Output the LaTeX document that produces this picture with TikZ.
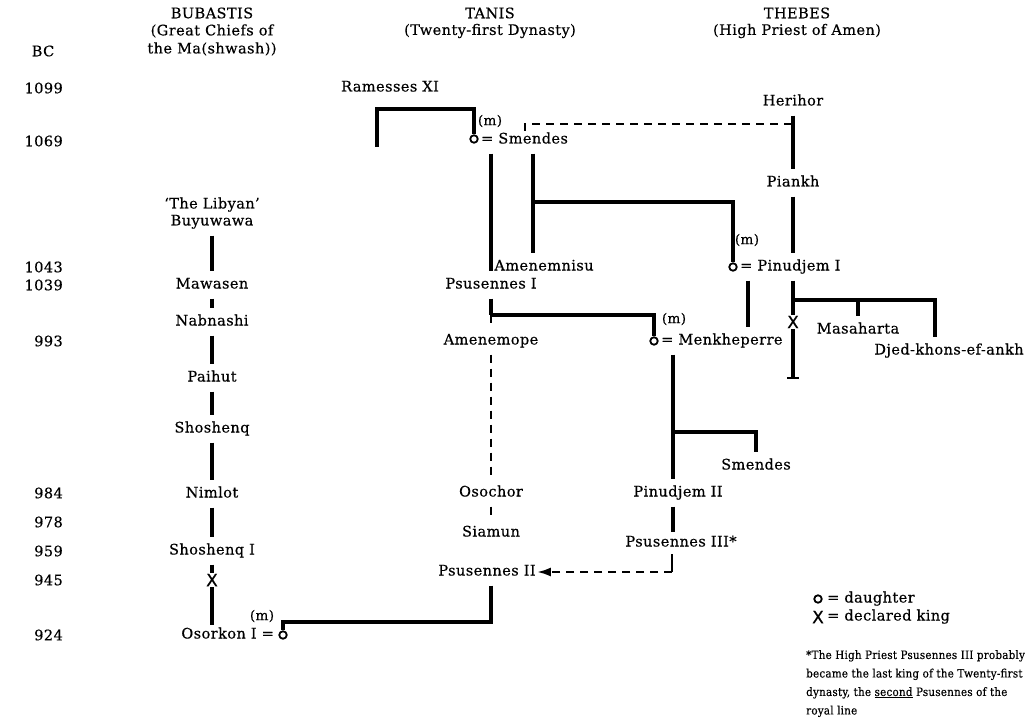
\documentclass[tikz,border=0pt]{standalone}
\usepackage{fontspec}
\usetikzlibrary{arrows.meta}
\setmainfont{DejaVu Serif}[LetterSpace=3,FakeBold=0.4]
\newfontfamily\xfont{DejaVu Sans}[FakeBold=0.6]
\newfontfamily\footfont{DejaVu Serif Condensed}[LetterSpace=2,FakeBold=0.3]
\begin{document}
\begin{tikzpicture}[x=1pt,y=-1pt,
  lbl/.style={font=\fontsize{14.5}{16}\selectfont, inner xsep=1pt, inner ysep=0pt, text height=10pt, text depth=3pt, minimum height=27pt},
  hdr/.style={font=\fontsize{14.5}{16}\selectfont, inner sep=0pt},
  yr/.style={anchor=east, font=\fontsize{14.5}{16}\selectfont, inner sep=0pt},
  mm/.style={font=\fontsize{13.5}{15}\selectfont, inner sep=0pt},
  xmark/.style={font=\xfont\fontsize{17}{19}\selectfont, inner xsep=0pt, inner ysep=1pt},
  kin/.style={line width=3.2pt},
  dsh/.style={line width=2.5pt, dash pattern=on 8pt off 6pt},
  dau/.style={circle, draw, line width=1.8pt, minimum size=7.5pt, inner sep=0pt},
  foot/.style={font=\footfont\fontsize{11.5}{18.5}\selectfont, inner sep=0pt, align=left}
]
\useasboundingbox (0,0) rectangle (1032,727);
% headers
\node[hdr] (hbub) at (212,13) {BUBASTIS};
\node[hdr] (hbub2) at (212,31) {(Great Chiefs of};
\node[hdr] (hbub3) at (212,49) {the Ma(shwash))};
\node[hdr] (htan) at (490,13) {TANIS};
\node[hdr] (htan2) at (490,31) {(Twenty-first Dynasty)};
\node[hdr] (hthe) at (797,13) {THEBES};
\node[hdr] (hthe2) at (797,31) {(High Priest of Amen)};
\node[hdr] (bc) at (43,51) {BC};
% years
\node[yr] (y1099) at (63,88) {1099};
\node[yr] (y1069) at (63,141) {1069};
\node[yr] (y1043) at (63,267) {1043};
\node[yr] (y1039) at (63,285) {1039};
\node[yr] (y993) at (63,341) {993};
\node[yr] (y984) at (63,493) {984};
\node[yr] (y978) at (63,522) {978};
\node[yr] (y959) at (63,551) {959};
\node[yr] (y945) at (63,580) {945};
\node[yr] (y924) at (63,635) {924};
% column coordinates
\coordinate (bx) at (212,0);
\coordinate (tx) at (491,0);
\coordinate (hx) at (793,0);
% Bubastis
\node[lbl] (libyan) at (212,205) {‘The Libyan’};
\node[lbl] (buyu) at (212,222) {Buyuwawa};
\node[lbl] (mawa) at (212,285) {Mawasen};
\node[lbl] (nabn) at (212,322) {Nabnashi};
\node[lbl] (paih) at (212,378) {Paihut};
\node[lbl] (shos) at (212,429) {Shoshenq};
\node[lbl] (niml) at (212,494) {Nimlot};
\node[lbl] (shos1) at (212,551) {Shoshenq I};
\node[xmark] (xb) at (212,580) {X};
\node[lbl,anchor=east,minimum height=20pt] (osor) at (275,635) {Osorkon I =};
\node[dau] (dosor) at (283,635) {};
\node[mm] (m4) at (262,616) {(m)};
\draw[kin] (buyu) -- (mawa);
\draw[kin] (mawa) -- (nabn);
\draw[kin] (nabn) -- (paih);
\draw[kin] (paih) -- (shos);
\draw[kin] (shos) -- (niml);
\draw[kin] (niml) -- (shos1);
\draw[kin] (shos1) -- (xb);
\draw[kin] (xb) -- (xb |- osor.north);
% Tanis
\node[lbl] (ram) at (390,88) {Ramesses XI};
\node[dau] (dsm) at (474,139) {};
\node[lbl,anchor=west] (smen) at (480,140) {= Smendes};
\node[mm] (m1) at (490,121) {(m)};
\node[lbl] (amnm) at (544,267) {Amenemnisu};
\node[lbl] (psus1) at (491,285) {Psusennes I};
\node[lbl] (amop) at (491,341) {Amenemope};
\node[lbl] (osoc) at (491,493) {Osochor};
\node[lbl] (siam) at (491,533) {Siamun};
\node[lbl] (psus2) at (487,572) {Psusennes II};
\coordinate (r1) at (377,147);
\coordinate (rtop) at (377,109);
\draw[kin] (r1) -- (rtop) -| (dsm.north);
\coordinate (sa) at (533,0);
\draw[kin] (smen.south -| tx) -- (psus1.north);
\draw[kin] (smen.south -| sa) -- (amnm.north -| sa);
\coordinate (p1b) at (491,315);
\draw[kin] (psus1.south) -- (p1b);
\draw[dsh] (p1b) -- (amop.north);
\draw[dsh] (amop.south) -- (osoc.north);
\draw[dsh] (osoc.south) -- (siam.north);
\coordinate (pb2) at (491,622);
\draw[kin] (psus2.south -| tx) -- (pb2) -| (dosor.north);
% Thebes
\node[lbl] (heri) at (793,102) {Herihor};
\node[lbl] (pian) at (793,183) {Piankh};
\node[dau] (dpin) at (733,267) {};
\node[lbl,anchor=west] (pin1) at (739,267) {= Pinudjem I};
\node[mm] (m2) at (747,240) {(m)};
\node[dau] (dmen) at (654,341) {};
\node[lbl,anchor=west] (menk) at (660,341) {= Menkheperre};
\node[mm] (m3) at (674,319) {(m)};
\node[xmark] (xt) at (793,322) {X};
\node[lbl] (masa) at (858,330) {Masaharta};
\node[lbl] (djed) at (949,351) {Djed-khons-ef-ankh};
\node[lbl] (smen2) at (756,466) {Smendes};
\node[lbl] (pin2) at (678,493) {Pinudjem II};
\node[lbl,minimum height=22pt] (psus3) at (681,543) {Psusennes III*};
% Herihor dashed
\coordinate (hd) at (525,131);
\coordinate (hdt) at (525,124);
\draw[dsh] (hd) -- (hdt) -- (hdt -| heri);
\draw[kin] (heri.south) -- (pian.north);
\draw[kin] (pian.south) -- (pian.south |- pin1.north);
\coordinate (sb) at (533,202);
\draw[kin] (sb) -| (dpin.north);
\coordinate (pm) at (748,0);
\draw[kin] (pin1.south -| pm) -- (menk.north -| pm);
\draw[kin] (pin1.south -| hx) -- (xt.north);
\coordinate (pb) at (793,300);
\coordinate (dj) at (935,300);
\draw[kin] (pb) -- (dj) -- (dj |- djed.north);
\draw[kin] (pb -| masa) -- (masa.north);
\coordinate (xend) at (793,378);
\draw[kin] (xt.south) -- (xend);
\draw[line width=1.8pt] ([xshift=-6pt]xend) -- ([xshift=6pt]xend);
\draw[kin] (p1b) -| (dmen.north);
\coordinate (mx) at (673,0);
\draw[kin] (menk.south -| mx) -- (pin2.north -| mx);
\coordinate (mb) at (673,432);
\draw[kin] (mb) -| (smen2.north);
\draw[kin] (pin2.south -| mx) -- (psus3.north -| mx);
\coordinate (p3b) at (672,572);
\draw[line width=2.6pt] (psus3.south -| p3b) -- (p3b);
\draw[dsh,-{Latex[length=14pt,width=9pt]}] (p3b) -- (psus2.east);
% legend
\node[dau] (ldau) at (818,599) {};
\node[lbl,anchor=west,minimum height=18pt] (ldaut) at (826,599) {= daughter};
\node[xmark] (lx) at (818,617) {X};
\node[lbl,anchor=west,minimum height=18pt] (lxt) at (826,617) {= declared king};
\node[foot,anchor=north west] (fn) at (806,650) {*The High Priest Psusennes III probably\\became the last king of the Twenty-first\\dynasty, the \underline{second} Psusennes of the\\royal line};
\end{tikzpicture}
\end{document}
